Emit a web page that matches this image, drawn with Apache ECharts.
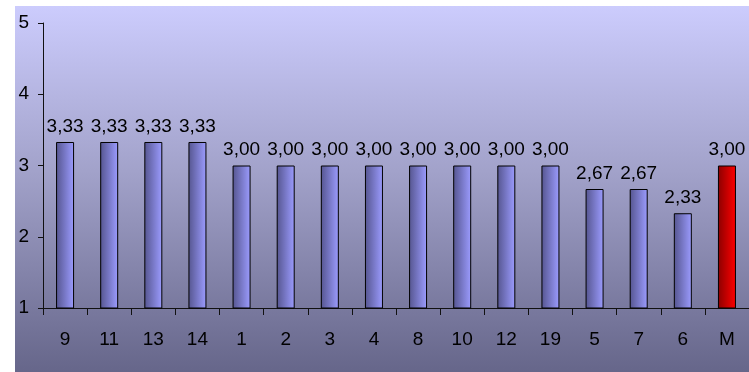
<!DOCTYPE html>
<html>
<head>
<meta charset="utf-8">
<script src="https://cdn.jsdelivr.net/npm/echarts@6/dist/echarts.min.js"></script>
<style>
  html, body { margin: 0; padding: 0; background: #ffffff; }
  #chart { width: 749px; height: 372px; }
</style>
</head>
<body>
<div id="chart"></div>
<script>
// Average scores per item, the final column "M" being the overall mean
const categories = ['9', '11', '13', '14', '1', '2', '3', '4', '8', '10', '12', '19', '5', '7', '6', 'M'];
const scores = [3.33, 3.33, 3.33, 3.33, 3.00, 3.00, 3.00, 3.00, 3.00, 3.00, 3.00, 3.00, 2.67, 2.67, 2.33, 3.00];
const yTicks = [1, 2, 3, 4, 5];

const blueFill = new echarts.graphic.LinearGradient(0, 0, 1, 0, [
  { offset: 0, color: '#55558f' },
  { offset: 1, color: '#9c9cff' }
]);
const redFill = new echarts.graphic.LinearGradient(0, 0, 1, 0, [
  { offset: 0, color: '#8c0000' },
  { offset: 1, color: '#ff0000' }
]);

const chart = echarts.init(document.getElementById('chart'), null, { renderer: 'canvas' });

const fontFamily = '"Liberation Sans", Arial, sans-serif';

chart.setOption({
  backgroundColor: '#ffffff',
  animation: false,
  graphic: [{
    type: 'rect',
    z: -10,
    silent: true,
    shape: { x: 15, y: 6, width: 734, height: 366 },
    style: {
      fill: new echarts.graphic.LinearGradient(0, 0, 0, 1, [
        { offset: 0, color: '#ccccfd' },
        { offset: 0.45, color: '#a2a2ca' },
        { offset: 1, color: '#66668a' }
      ])
    }
  }],
  grid: { left: 43, top: 23, width: 708, bottom: 64, containLabel: false },
  xAxis: {
    type: 'category',
    data: categories,
    boundaryGap: true,
    axisLine: { lineStyle: { color: '#111111', width: 1 } },
    axisTick: { show: true, length: 7, alignWithLabel: false, lineStyle: { color: '#111111' } },
    axisLabel: { color: '#000000', fontSize: 19, fontFamily: fontFamily, margin: 22, interval: 0 },
    splitLine: { show: false }
  },
  yAxis: {
    type: 'value',
    min: yTicks[0],
    max: yTicks[yTicks.length - 1],
    interval: 1,
    axisLine: { show: true, lineStyle: { color: '#111111', width: 1 } },
    axisTick: { show: true, length: 5, lineStyle: { color: '#111111' } },
    axisLabel: { color: '#000000', fontSize: 19, fontFamily: fontFamily, margin: 14 },
    splitLine: { show: false }
  },
  series: [{
    type: 'bar',
    barWidth: 18,
    clip: true,
    data: scores.map((v, i) => ({
      value: v,
      itemStyle: { color: categories[i] === 'M' ? redFill : blueFill }
    })),
    itemStyle: { borderColor: '#000000', borderWidth: 1 },
    label: {
      show: true,
      position: 'top',
      distance: 6,
      color: '#000000',
      fontSize: 19,
      fontFamily: fontFamily,
      formatter: p => p.value.toFixed(2).replace('.', ',')
    }
  }]
});
</script>
</body>
</html>
